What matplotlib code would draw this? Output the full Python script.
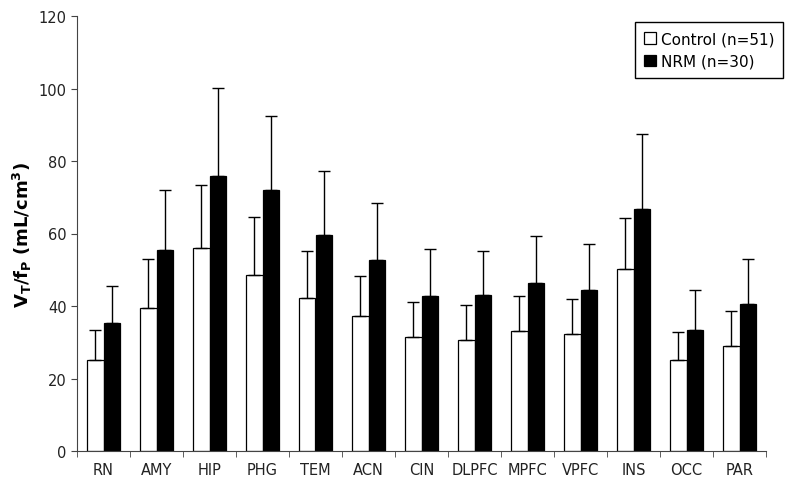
import numpy as np
import matplotlib.pyplot as plt

regions = ["RN", "AMY", "HIP", "PHG", "TEM", "ACN", "CIN", "DLPFC", "MPFC", "VPFC", "INS", "OCC", "PAR"]
control_mean = [25.0, 39.5, 56.0, 48.5, 42.3, 37.3, 31.5, 30.5, 33.0, 32.3, 50.2, 25.0, 29.0]
control_sd = [8.3, 13.5, 17.5, 16.0, 13.0, 11.0, 9.5, 9.8, 9.7, 9.7, 14.1, 7.8, 9.5]
nrm_mean = [35.3, 55.4, 75.8, 72.0, 59.5, 52.7, 42.7, 43.0, 46.3, 44.3, 66.7, 33.5, 40.5]
nrm_sd = [10.3, 16.6, 24.4, 20.5, 17.8, 15.6, 13.1, 12.3, 13.0, 12.7, 20.8, 11.0, 12.5]

fig = plt.figure(figsize=(8, 4.89), dpi=100)
ax = fig.add_axes([77 / 800, 1 - 452 / 489, 689 / 800, 435 / 489])

x = np.arange(len(regions))
w = 0.32
ax.bar(x - w / 2, control_mean, w, color="white", edgecolor="black", linewidth=0.9,
       yerr=[np.zeros(len(x)), control_sd], error_kw=dict(ecolor="black", elinewidth=1, capsize=4.5, capthick=1),
       label="Control (n=51)")
ax.bar(x + w / 2, nrm_mean, w, color="black", edgecolor="black", linewidth=0.9,
       yerr=[np.zeros(len(x)), nrm_sd], error_kw=dict(ecolor="black", elinewidth=1, capsize=4.5, capthick=1),
       label="NRM (n=30)")

ax.set_xlim(-0.5, len(regions) - 0.5)
ax.set_ylim(0, 120)
ax.set_yticks(range(0, 121, 20))
ax.set_xticks(x)
ax.set_xticklabels(regions)
ax.set_xticks(np.arange(-0.5, len(regions)), minor=True)
ax.tick_params(axis="x", which="major", length=0, pad=8, labelsize=10.5, labelcolor="#222222")
ax.tick_params(axis="x", which="minor", length=4, direction="out", color="#444444")
ax.tick_params(axis="y", length=4, direction="out", labelsize=10.5, color="#444444", labelcolor="#222222")

for s in ["top", "right"]:
    ax.spines[s].set_visible(False)
for s in ["left", "bottom"]:
    ax.spines[s].set_color("#444444")

ax.set_ylabel(r"$\mathbf{V_T/f_P\ (mL/cm^3)}$", fontsize=13, labelpad=3)

leg = ax.legend(loc="upper right", bbox_to_anchor=(1.025, 0.986), borderaxespad=0, fancybox=False,
                edgecolor="black", fontsize=11, handlelength=0.8, handleheight=0.8,
                handletextpad=0.3, borderpad=0.6, labelspacing=0.5, framealpha=1)
leg.get_frame().set_linewidth(1)

fig.savefig("out.png", dpi=100)
